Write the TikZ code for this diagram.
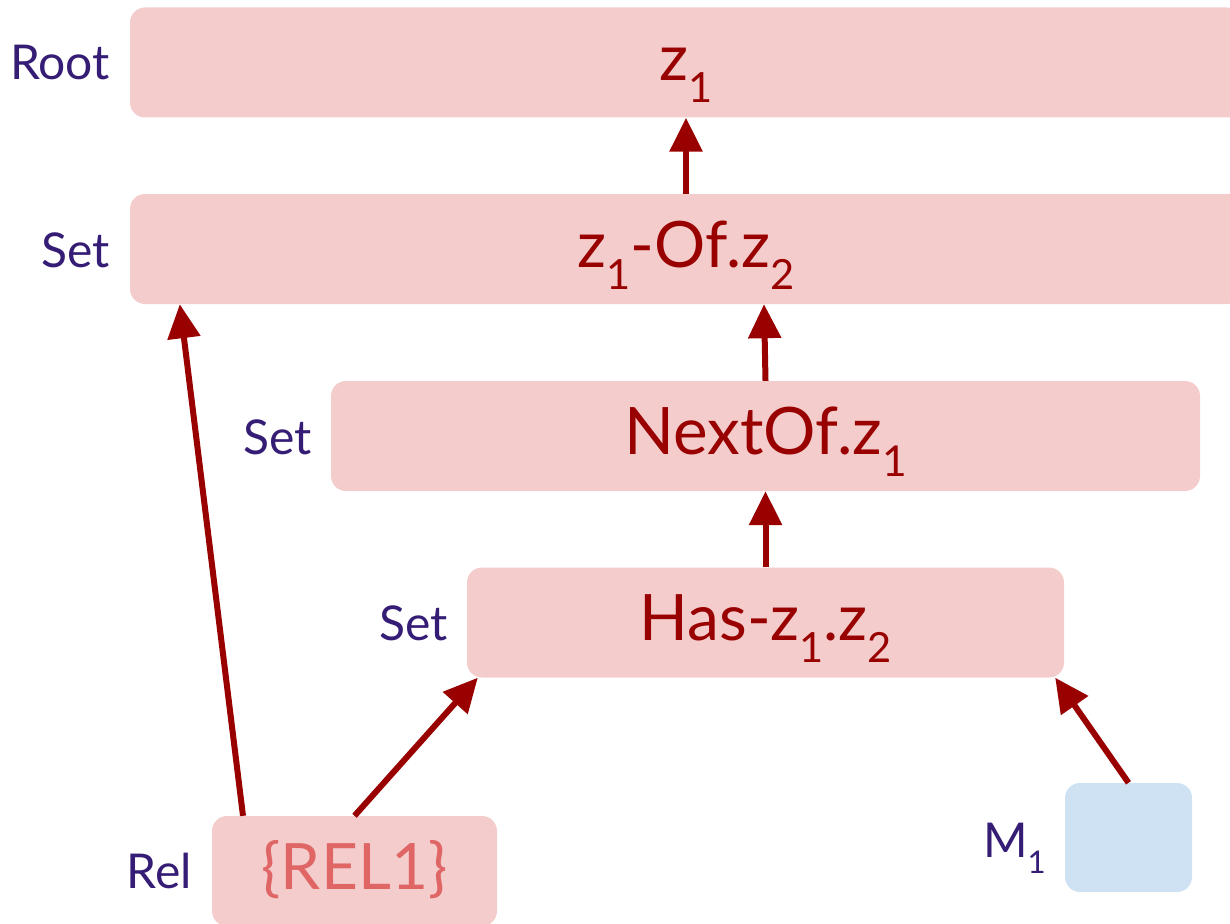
\documentclass[tikz,border=0pt]{standalone}
\usepackage{fontspec}
\usepackage{graphicx}
\setmainfont{Lato}
\usetikzlibrary{arrows.meta}
\definecolor{boxpink}{HTML}{F4CCCC}
\definecolor{darkred}{HTML}{990000}
\definecolor{lblpurple}{HTML}{351C75}
\definecolor{relred}{HTML}{E06666}
\definecolor{boxblue}{HTML}{CFE2F3}
\newcommand\zsub[1]{\raisebox{-0.35em}{\scalebox{0.65}{#1}}}
\begin{document}
\begin{tikzpicture}[x=1pt,y=-1pt,
  box/.style={fill=boxpink, rounded corners=15pt, inner sep=0pt, text=darkred,
    text height=36pt, text depth=0pt, minimum height=110pt, font=\fontsize{64}{70}\selectfont},
  lbl/.style={text=lblpurple, anchor=base east, inner sep=0pt, font=\fontsize{48}{56}\selectfont},
  conn/.style={draw=darkred, line width=6pt, -{Triangle[length=34pt,width=32pt]}}]
\useasboundingbox (0,0) rectangle (1230,923);
\clip (0,0) rectangle (1230,923);

\node[box, minimum width=1112pt] (root) at (686,62.5) {z\zsub{1}};
\node[box, minimum width=1112pt] (set1) at (686,249) {z\zsub{1}-Of.z\zsub{2}};
\node[box, minimum width=869pt, font=\fontsize{65.5}{70}\selectfont] (next) at (765.5,436) {NextOf.z\zsub{1}};
\node[box, minimum width=597pt] (has) at (765.5,622.5) {Has-z\zsub{1}.z\zsub{2}};
\node[box, minimum width=285pt, text=relred] (rel) at (354.5,871) {\{REL1\}};
\node[fill=boxblue, rounded corners=15pt, minimum width=127pt, minimum height=109pt, inner sep=0pt] (m) at (1128.5,837.5) {};

\node[lbl] (lroot) at (110,80) {Root};
\node[lbl] (lset1) at (110,267) {Set};
\node[lbl] (lset2) at (312,454) {Set};
\node[lbl] (lset3) at (448,640) {Set};
\node[lbl] (lrel) at (192,888) {Rel};
\node[lbl] (lm) at (1046,857) {M\zsub{1}};

\draw[conn] (set1.north) -- (root.south);
\draw[conn] (next.north) -- ([xshift=78pt]set1.south);
\draw[conn] (has.north) -- (next.south);
\draw[conn] ([xshift=-111.5pt]rel.north) -- ([xshift=50pt]set1.south west);
\draw[conn] (rel.north) -- ([xshift=11pt]has.south west);
\draw[conn] (m.north) -- ([xshift=-9pt]has.south east);
\end{tikzpicture}
\end{document}
